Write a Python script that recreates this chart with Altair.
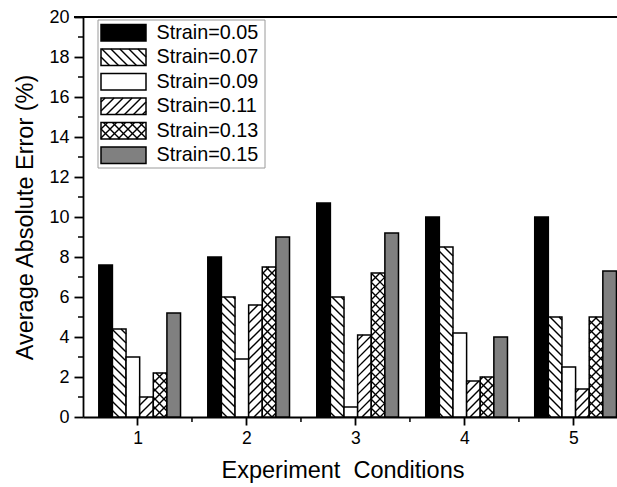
import math
import altair as alt
import pandas as pd

# ---------------- data ----------------
conditions = [1, 2, 3, 4, 5]
series_labels = ["Strain=0.05", "Strain=0.07", "Strain=0.09",
                 "Strain=0.11", "Strain=0.13", "Strain=0.15"]
strain_005 = [7.6, 8.0, 10.7, 10.0, 10.0]
strain_007 = [4.4, 6.0, 6.0, 8.5, 5.0]
strain_009 = [3.0, 2.9, 0.5, 4.2, 2.5]
strain_011 = [1.0, 5.6, 4.1, 1.8, 1.4]
strain_013 = [2.2, 7.5, 7.2, 2.0, 5.0]
strain_015 = [5.2, 9.0, 9.2, 4.0, 7.3]
y_ticks = [0, 2, 4, 6, 8, 10, 12, 14, 16, 18, 20]
y_minor = [1, 3, 5, 7, 9, 11, 13, 15, 17, 19]
x_ticks = [1, 2, 3, 4, 5]
x_minor = [1.5, 2.5, 3.5, 4.5]

series_values = [strain_005, strain_007, strain_009, strain_011, strain_013, strain_015]

# ---------------- styles ----------------
fills = ["#000000", "#ffffff", "#ffffff", "#ffffff", "#ffffff", "#808080"]
hatch_kinds = [None, "\\", None, "/", "x", None]
FONT = "Liberation Sans"

W, H = 534, 400
X0, X1 = 0.5, 5.4
Y0, Y1 = 0.0, 20.0
PX = W / (X1 - X0)          # pixels per x unit
PY = H / (Y1 - Y0)          # pixels per y unit
BAR = 0.125                 # bar width in x units
GROUP_SHIFT = 0.02          # small rightward offset of each group
PERIOD = 9.0                # hatch period in pixels


def x_to_px(x):
    return (x - X0) * PX


def y_to_px(y):
    return (y - Y0) * PY


def px_to_x(p):
    return X0 + p / PX


def px_to_y(p):
    return Y0 + p / PY


def hatch_segments(left, right, bottom, top, kind):
    """Diagonal hatch lines clipped to a rectangle (pixel space, y up)."""
    segs = []
    kinds = ["/", "\\"] if kind == "x" else [kind]
    for k in kinds:
        if k == "/":
            lo = math.ceil((bottom - right) / PERIOD)
            hi = math.floor((top - left) / PERIOD)
            for i in range(lo, hi + 1):
                c = i * PERIOD
                xa = max(left, bottom - c)
                xb = min(right, top - c)
                if xb - xa > 0.4:
                    segs.append((xa, xa + c, xb, xb + c))
        else:
            lo = math.ceil((left + bottom) / PERIOD)
            hi = math.floor((right + top) / PERIOD)
            for i in range(lo, hi + 1):
                c = i * PERIOD
                xa = max(left, c - top)
                xb = min(right, c - bottom)
                if xb - xa > 0.4:
                    segs.append((xa, c - xa, xb, c - xb))
    return segs


# ---------------- tables ----------------
bar_rows = []
hatch_rows = []
for si, (label, vals) in enumerate(zip(series_labels, series_values)):
    for ci, cond in enumerate(conditions):
        xl = cond + GROUP_SHIFT - 3 * BAR + si * BAR
        xr = xl + BAR
        bar_rows.append({"series": label, "condition": cond, "x0": xl, "x1": xr,
                         "value": vals[ci], "zero": 0.0})
        if hatch_kinds[si]:
            for (a, b, c, d) in hatch_segments(x_to_px(xl), x_to_px(xr), y_to_px(0),
                                               y_to_px(vals[ci]), hatch_kinds[si]):
                hatch_rows.append({"hx1": px_to_x(a), "hy1": px_to_y(b),
                                   "hx2": px_to_x(c), "hy2": px_to_y(d)})

bars_df = pd.DataFrame(bar_rows)

# legend layout (pixels, measured from plot's top-left, y down)
LEG_BOX = (15, 182, 3, 151)
LEG_ROW0, LEG_STEP = 15.7, 24.5
SW_L, SW_R, SW_HALF = 18, 63, 8.3
TXT_X = 73.5

legend_rows = []
for si, label in enumerate(series_labels):
    cy = LEG_ROW0 + si * LEG_STEP
    top_px = H - (cy - SW_HALF)
    bot_px = H - (cy + SW_HALF)
    legend_rows.append({"series": label,
                        "lx1": px_to_x(SW_L), "lx2": px_to_x(SW_R),
                        "ly1": px_to_y(bot_px), "ly2": px_to_y(top_px),
                        "tx": px_to_x(TXT_X), "ty": px_to_y(H - cy)})
    if hatch_kinds[si]:
        for (a, b, c, d) in hatch_segments(SW_L, SW_R, bot_px, top_px, hatch_kinds[si]):
            hatch_rows.append({"hx1": px_to_x(a), "hy1": px_to_y(b),
                               "hx2": px_to_x(c), "hy2": px_to_y(d)})
legend_df = pd.DataFrame(legend_rows)
hatch_df = pd.DataFrame(hatch_rows)

box_df = pd.DataFrame([{"bx1": px_to_x(LEG_BOX[0]), "bx2": px_to_x(LEG_BOX[1]),
                        "by1": px_to_y(H - LEG_BOX[3]), "by2": px_to_y(H - LEG_BOX[2])}])

# ---------------- chart ----------------
x_scale = alt.Scale(domain=[X0, X1], nice=False, zero=False)
y_scale = alt.Scale(domain=[Y0, Y1], nice=False, zero=False)
fill_scale = alt.Scale(domain=series_labels, range=fills)

x_axis = alt.Axis(values=x_ticks, title="Experiment\u00a0 Conditions",
                  format="d", tickSize=8, tickWidth=1.8, domainWidth=1.8,
                  domainColor="black", tickColor="black", grid=False,
                  labelFontSize=17.5, labelFont=FONT, labelColor="black",
                  labelPadding=4, titleFontSize=23.5, titleFont=FONT,
                  titleFontWeight="normal", titleColor="black",
                  titlePadding=12, titleX=259.5)
y_axis = alt.Axis(values=y_ticks, title="Average Absolute Error (%)",
                  format="d", tickSize=9, tickWidth=1.8, domainWidth=1.8,
                  domainColor="black", tickColor="black", grid=False,
                  labelFontSize=18, labelFont=FONT, labelColor="black",
                  labelPadding=5, titleFontSize=23.5, titleFont=FONT,
                  titleFontWeight="normal", titleColor="black",
                  titlePadding=11)

bars = alt.Chart(bars_df).mark_bar(stroke="black", strokeWidth=1.5).encode(
    x=alt.X("x0:Q", scale=x_scale, axis=x_axis),
    x2="x1:Q",
    y=alt.Y("value:Q", scale=y_scale, axis=y_axis),
    y2="zero:Q",
    fill=alt.Fill("series:N", scale=fill_scale, legend=None),
)

hatch = alt.Chart(hatch_df).mark_rule(color="black", strokeWidth=1.4).encode(
    x=alt.X("hx1:Q", scale=x_scale, axis=x_axis),
    y=alt.Y("hy1:Q", scale=y_scale, axis=y_axis),
    x2="hx2:Q",
    y2="hy2:Q",
)

box = alt.Chart(box_df).mark_rect(fill="white", stroke="#9a9a9a", strokeWidth=1).encode(
    x=alt.X("bx1:Q", scale=x_scale, axis=x_axis), x2="bx2:Q",
    y=alt.Y("by1:Q", scale=y_scale, axis=y_axis), y2="by2:Q",
)

swatch = alt.Chart(legend_df).mark_rect(stroke="black", strokeWidth=1.5).encode(
    x=alt.X("lx1:Q", scale=x_scale, axis=x_axis), x2="lx2:Q",
    y=alt.Y("ly1:Q", scale=y_scale, axis=y_axis), y2="ly2:Q",
    fill=alt.Fill("series:N", scale=fill_scale, legend=None),
)

legend_text = alt.Chart(legend_df).mark_text(
    align="left", baseline="middle", fontSize=19.8, font=FONT, color="black"
).encode(
    x=alt.X("tx:Q", scale=x_scale, axis=x_axis),
    y=alt.Y("ty:Q", scale=y_scale, axis=y_axis),
    text="series:N",
)

y_minor_ticks = alt.Chart(pd.DataFrame({"m": y_minor})).mark_rule(
    color="black", strokeWidth=1.5
).encode(
    y=alt.Y("m:Q", scale=y_scale, axis=y_axis),
    x=alt.value(-5), x2=alt.value(0),
)

x_minor_ticks = alt.Chart(pd.DataFrame({"m": x_minor})).mark_rule(
    color="black", strokeWidth=1.5
).encode(
    x=alt.X("m:Q", scale=x_scale, axis=x_axis),
    y=alt.value(H), y2=alt.value(H + 5),
)

top_line = alt.Chart(pd.DataFrame({"a": [0]})).mark_rule(
    color="black", strokeWidth=2
).encode(
    x=alt.value(-9), x2=alt.value(W), y=alt.value(0),
)

chart = alt.layer(
    bars, box, swatch, hatch, legend_text, y_minor_ticks, x_minor_ticks, top_line
).properties(
    width=W, height=H,
    autosize=alt.AutoSizeParams(type="none"),
    padding={"left": 83, "top": 17, "right": 0, "bottom": 70},
    background="white",
).configure_view(stroke=None)

chart.save("out.html", embed_options={"renderer": "svg", "actions": False})
